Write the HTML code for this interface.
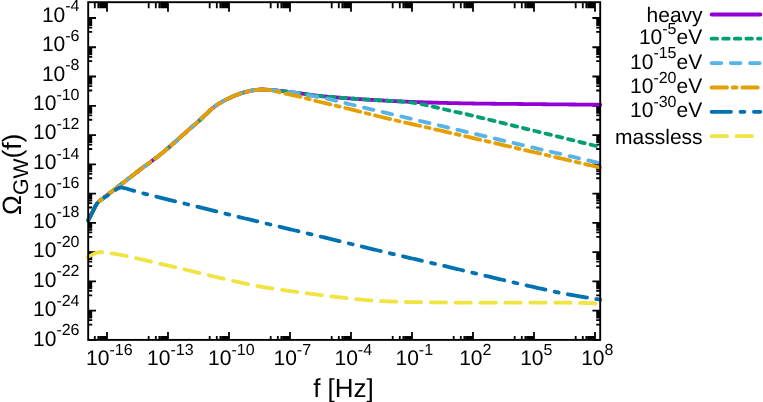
<!DOCTYPE html>
<html><head><meta charset="utf-8"><title>plot</title>
<style>html,body{margin:0;padding:0;background:#fff;}svg{display:block;will-change:transform;}text{font-family:"Liberation Sans",sans-serif;fill:#000;text-rendering:geometricPrecision;}</style></head><body>
<svg width="763" height="402" viewBox="0 0 763 402">
<rect x="0" y="0" width="763" height="402" fill="#fff"/>
<path d="M107.00,2.2 V11.8 M107.00,339.9 V332.1 M94.80,2.2 V8.2 M94.80,339.9 V336.0 M98.36,2.2 V8.2 M98.36,339.9 V336.0 M100.29,2.2 V8.2 M100.29,339.9 V336.0 M102.02,2.2 V8.2 M102.02,339.9 V336.0 M103.54,2.2 V8.2 M103.54,339.9 V336.0 M104.87,2.2 V8.2 M104.87,339.9 V336.0 M105.98,2.2 V8.2 M105.98,339.9 V336.0 M168.00,2.2 V11.8 M168.00,339.9 V332.1 M148.68,2.2 V8.2 M148.68,339.9 V336.0 M155.80,2.2 V8.2 M155.80,339.9 V336.0 M159.36,2.2 V8.2 M159.36,339.9 V336.0 M161.29,2.2 V8.2 M161.29,339.9 V336.0 M163.02,2.2 V8.2 M163.02,339.9 V336.0 M164.54,2.2 V8.2 M164.54,339.9 V336.0 M165.86,2.2 V8.2 M165.86,339.9 V336.0 M166.98,2.2 V8.2 M166.98,339.9 V336.0 M229.00,2.2 V11.8 M229.00,339.9 V332.1 M209.68,2.2 V8.2 M209.68,339.9 V336.0 M216.80,2.2 V8.2 M216.80,339.9 V336.0 M220.36,2.2 V8.2 M220.36,339.9 V336.0 M222.29,2.2 V8.2 M222.29,339.9 V336.0 M224.02,2.2 V8.2 M224.02,339.9 V336.0 M225.54,2.2 V8.2 M225.54,339.9 V336.0 M226.86,2.2 V8.2 M226.86,339.9 V336.0 M227.98,2.2 V8.2 M227.98,339.9 V336.0 M290.00,2.2 V11.8 M290.00,339.9 V332.1 M270.68,2.2 V8.2 M270.68,339.9 V336.0 M277.80,2.2 V8.2 M277.80,339.9 V336.0 M281.36,2.2 V8.2 M281.36,339.9 V336.0 M283.29,2.2 V8.2 M283.29,339.9 V336.0 M285.02,2.2 V8.2 M285.02,339.9 V336.0 M286.54,2.2 V8.2 M286.54,339.9 V336.0 M287.86,2.2 V8.2 M287.86,339.9 V336.0 M288.98,2.2 V8.2 M288.98,339.9 V336.0 M351.00,2.2 V11.8 M351.00,339.9 V332.1 M331.68,2.2 V8.2 M331.68,339.9 V336.0 M338.80,2.2 V8.2 M338.80,339.9 V336.0 M342.35,2.2 V8.2 M342.35,339.9 V336.0 M344.29,2.2 V8.2 M344.29,339.9 V336.0 M346.01,2.2 V8.2 M346.01,339.9 V336.0 M347.54,2.2 V8.2 M347.54,339.9 V336.0 M348.86,2.2 V8.2 M348.86,339.9 V336.0 M349.98,2.2 V8.2 M349.98,339.9 V336.0 M412.00,2.2 V11.8 M412.00,339.9 V332.1 M392.68,2.2 V8.2 M392.68,339.9 V336.0 M399.80,2.2 V8.2 M399.80,339.9 V336.0 M403.35,2.2 V8.2 M403.35,339.9 V336.0 M405.29,2.2 V8.2 M405.29,339.9 V336.0 M407.01,2.2 V8.2 M407.01,339.9 V336.0 M408.54,2.2 V8.2 M408.54,339.9 V336.0 M409.86,2.2 V8.2 M409.86,339.9 V336.0 M410.98,2.2 V8.2 M410.98,339.9 V336.0 M472.99,2.2 V11.8 M472.99,339.9 V332.1 M453.68,2.2 V8.2 M453.68,339.9 V336.0 M460.79,2.2 V8.2 M460.79,339.9 V336.0 M464.35,2.2 V8.2 M464.35,339.9 V336.0 M466.28,2.2 V8.2 M466.28,339.9 V336.0 M468.01,2.2 V8.2 M468.01,339.9 V336.0 M469.54,2.2 V8.2 M469.54,339.9 V336.0 M470.86,2.2 V8.2 M470.86,339.9 V336.0 M471.98,2.2 V8.2 M471.98,339.9 V336.0 M533.99,2.2 V11.8 M533.99,339.9 V332.1 M514.68,2.2 V8.2 M514.68,339.9 V336.0 M521.79,2.2 V8.2 M521.79,339.9 V336.0 M525.35,2.2 V8.2 M525.35,339.9 V336.0 M527.28,2.2 V8.2 M527.28,339.9 V336.0 M529.01,2.2 V8.2 M529.01,339.9 V336.0 M530.54,2.2 V8.2 M530.54,339.9 V336.0 M531.86,2.2 V8.2 M531.86,339.9 V336.0 M532.98,2.2 V8.2 M532.98,339.9 V336.0 M594.99,2.2 V11.8 M594.99,339.9 V332.1 M575.68,2.2 V8.2 M575.68,339.9 V336.0 M582.79,2.2 V8.2 M582.79,339.9 V336.0 M586.35,2.2 V8.2 M586.35,339.9 V336.0 M588.28,2.2 V8.2 M588.28,339.9 V336.0 M590.01,2.2 V8.2 M590.01,339.9 V336.0 M591.54,2.2 V8.2 M591.54,339.9 V336.0 M592.86,2.2 V8.2 M592.86,339.9 V336.0 M593.98,2.2 V8.2 M593.98,339.9 V336.0 M88.2,18.00 H96.0 M600.2,18.00 H592.4 M88.2,31.96 H92.2 M600.2,31.96 H596.2 M88.2,27.56 H92.2 M600.2,27.56 H596.2 M88.2,24.98 H92.2 M600.2,24.98 H596.2 M88.2,23.15 H92.2 M600.2,23.15 H596.2 M88.2,21.73 H92.2 M600.2,21.73 H596.2 M88.2,20.58 H92.2 M600.2,20.58 H596.2 M88.2,19.60 H92.2 M600.2,19.60 H596.2 M88.2,18.75 H92.2 M600.2,18.75 H596.2 M88.2,47.26 H96.0 M600.2,47.26 H592.4 M88.2,61.22 H92.2 M600.2,61.22 H596.2 M88.2,56.82 H92.2 M600.2,56.82 H596.2 M88.2,54.24 H92.2 M600.2,54.24 H596.2 M88.2,52.41 H92.2 M600.2,52.41 H596.2 M88.2,50.99 H92.2 M600.2,50.99 H596.2 M88.2,49.84 H92.2 M600.2,49.84 H596.2 M88.2,48.86 H92.2 M600.2,48.86 H596.2 M88.2,48.01 H92.2 M600.2,48.01 H596.2 M88.2,76.52 H96.0 M600.2,76.52 H592.4 M88.2,90.48 H92.2 M600.2,90.48 H596.2 M88.2,86.08 H92.2 M600.2,86.08 H596.2 M88.2,83.50 H92.2 M600.2,83.50 H596.2 M88.2,81.67 H92.2 M600.2,81.67 H596.2 M88.2,80.25 H92.2 M600.2,80.25 H596.2 M88.2,79.10 H92.2 M600.2,79.10 H596.2 M88.2,78.12 H92.2 M600.2,78.12 H596.2 M88.2,77.27 H92.2 M600.2,77.27 H596.2 M88.2,105.78 H96.0 M600.2,105.78 H592.4 M88.2,119.74 H92.2 M600.2,119.74 H596.2 M88.2,115.34 H92.2 M600.2,115.34 H596.2 M88.2,112.76 H92.2 M600.2,112.76 H596.2 M88.2,110.93 H92.2 M600.2,110.93 H596.2 M88.2,109.51 H92.2 M600.2,109.51 H596.2 M88.2,108.36 H92.2 M600.2,108.36 H596.2 M88.2,107.38 H92.2 M600.2,107.38 H596.2 M88.2,106.53 H92.2 M600.2,106.53 H596.2 M88.2,135.04 H96.0 M600.2,135.04 H592.4 M88.2,149.00 H92.2 M600.2,149.00 H596.2 M88.2,144.60 H92.2 M600.2,144.60 H596.2 M88.2,142.02 H92.2 M600.2,142.02 H596.2 M88.2,140.19 H92.2 M600.2,140.19 H596.2 M88.2,138.77 H92.2 M600.2,138.77 H596.2 M88.2,137.62 H92.2 M600.2,137.62 H596.2 M88.2,136.64 H92.2 M600.2,136.64 H596.2 M88.2,135.79 H92.2 M600.2,135.79 H596.2 M88.2,164.30 H96.0 M600.2,164.30 H592.4 M88.2,178.26 H92.2 M600.2,178.26 H596.2 M88.2,173.86 H92.2 M600.2,173.86 H596.2 M88.2,171.28 H92.2 M600.2,171.28 H596.2 M88.2,169.45 H92.2 M600.2,169.45 H596.2 M88.2,168.03 H92.2 M600.2,168.03 H596.2 M88.2,166.88 H92.2 M600.2,166.88 H596.2 M88.2,165.90 H92.2 M600.2,165.90 H596.2 M88.2,165.05 H92.2 M600.2,165.05 H596.2 M88.2,193.56 H96.0 M600.2,193.56 H592.4 M88.2,207.52 H92.2 M600.2,207.52 H596.2 M88.2,203.12 H92.2 M600.2,203.12 H596.2 M88.2,200.54 H92.2 M600.2,200.54 H596.2 M88.2,198.71 H92.2 M600.2,198.71 H596.2 M88.2,197.29 H92.2 M600.2,197.29 H596.2 M88.2,196.14 H92.2 M600.2,196.14 H596.2 M88.2,195.16 H92.2 M600.2,195.16 H596.2 M88.2,194.31 H92.2 M600.2,194.31 H596.2 M88.2,222.82 H96.0 M600.2,222.82 H592.4 M88.2,236.78 H92.2 M600.2,236.78 H596.2 M88.2,232.38 H92.2 M600.2,232.38 H596.2 M88.2,229.80 H92.2 M600.2,229.80 H596.2 M88.2,227.97 H92.2 M600.2,227.97 H596.2 M88.2,226.55 H92.2 M600.2,226.55 H596.2 M88.2,225.40 H92.2 M600.2,225.40 H596.2 M88.2,224.42 H92.2 M600.2,224.42 H596.2 M88.2,223.57 H92.2 M600.2,223.57 H596.2 M88.2,252.08 H96.0 M600.2,252.08 H592.4 M88.2,266.04 H92.2 M600.2,266.04 H596.2 M88.2,261.64 H92.2 M600.2,261.64 H596.2 M88.2,259.06 H92.2 M600.2,259.06 H596.2 M88.2,257.23 H92.2 M600.2,257.23 H596.2 M88.2,255.81 H92.2 M600.2,255.81 H596.2 M88.2,254.66 H92.2 M600.2,254.66 H596.2 M88.2,253.68 H92.2 M600.2,253.68 H596.2 M88.2,252.83 H92.2 M600.2,252.83 H596.2 M88.2,281.34 H96.0 M600.2,281.34 H592.4 M88.2,295.30 H92.2 M600.2,295.30 H596.2 M88.2,290.90 H92.2 M600.2,290.90 H596.2 M88.2,288.32 H92.2 M600.2,288.32 H596.2 M88.2,286.49 H92.2 M600.2,286.49 H596.2 M88.2,285.07 H92.2 M600.2,285.07 H596.2 M88.2,283.92 H92.2 M600.2,283.92 H596.2 M88.2,282.94 H92.2 M600.2,282.94 H596.2 M88.2,282.09 H92.2 M600.2,282.09 H596.2 M88.2,310.60 H96.0 M600.2,310.60 H592.4 M88.2,324.56 H92.2 M600.2,324.56 H596.2 M88.2,320.16 H92.2 M600.2,320.16 H596.2 M88.2,317.58 H92.2 M600.2,317.58 H596.2 M88.2,315.75 H92.2 M600.2,315.75 H596.2 M88.2,314.33 H92.2 M600.2,314.33 H596.2 M88.2,313.18 H92.2 M600.2,313.18 H596.2 M88.2,312.20 H92.2 M600.2,312.20 H596.2 M88.2,311.35 H92.2 M600.2,311.35 H596.2 M88.2,339.86 H96.0 M600.2,339.86 H592.4" stroke="#000" stroke-width="1.8" fill="none"/>
<g fill="none" stroke-width="3.8" stroke-linecap="round" stroke-linejoin="round">
<path d="M88.20,220.40 L89.20,218.45 L90.20,216.50 L91.20,214.55 L92.20,212.59 L93.20,210.60 L94.20,208.58 L95.20,206.64 L96.20,204.85 L97.20,203.30 L98.20,202.22 L99.20,201.33 L100.20,200.52 L101.20,199.74 L102.20,198.95 L103.20,198.17 L104.20,197.39 L105.20,196.61 L106.20,195.83 L107.20,195.06 L108.20,194.28 L109.20,193.51 L110.20,192.74 L111.20,191.97 L112.20,191.20 L113.20,190.44 L114.20,189.67 L115.20,188.91 L116.20,188.14 L117.20,187.37 L118.20,186.60 L119.20,185.83 L120.20,185.06 L121.20,184.28 L122.20,183.50 L123.20,182.73 L124.20,181.95 L125.20,181.17 L126.20,180.39 L127.20,179.61 L128.20,178.83 L129.20,178.05 L130.20,177.27 L131.20,176.49 L132.20,175.71 L133.20,174.94 L134.20,174.17 L135.20,173.40 L136.20,172.64 L137.20,171.88 L138.20,171.12 L139.20,170.36 L140.20,169.60 L141.20,168.85 L142.20,168.10 L143.20,167.35 L144.20,166.60 L145.20,165.86 L146.20,165.13 L147.20,164.39 L148.20,163.66 L149.20,162.93 L150.20,162.19 L151.20,161.45 L152.20,160.70 L153.20,159.95 L154.20,159.21 L155.20,158.46 L156.20,157.71 L157.20,156.95 L158.20,156.19 L159.20,155.41 L160.20,154.62 L161.20,153.82 L162.20,153.00 L163.20,152.17 L164.20,151.34 L165.20,150.49 L166.20,149.65 L167.20,148.80 L168.20,147.94 L169.20,147.09 L170.20,146.23 L171.20,145.36 L172.20,144.49 L173.20,143.61 L174.20,142.73 L175.20,141.85 L176.20,140.97 L177.20,140.08 L178.20,139.18 L179.20,138.28 L180.20,137.38 L181.20,136.48 L182.20,135.58 L183.20,134.69 L184.20,133.80 L185.20,132.91 L186.20,132.02 L187.20,131.14 L188.20,130.26 L189.20,129.38 L190.20,128.50 L191.20,127.63 L192.20,126.76 L193.20,125.91 L194.20,125.07 L195.20,124.22 L196.20,123.36 L197.20,122.49 L198.20,121.60 L199.20,120.69 L200.20,119.75 L201.20,118.81 L202.20,117.85 L203.20,116.89 L204.20,115.93 L205.20,114.99 L206.20,114.04 L207.20,113.07 L208.20,112.10 L209.20,111.13 L210.20,110.19 L211.20,109.29 L212.20,108.44 L213.20,107.65 L214.20,106.89 L215.20,106.17 L216.20,105.47 L217.20,104.79 L218.20,104.14 L219.20,103.51 L220.20,102.90 L221.20,102.30 L222.20,101.73 L223.20,101.18 L224.20,100.64 L225.20,100.11 L226.20,99.60 L227.20,99.10 L228.20,98.61 L229.20,98.13 L230.20,97.66 L231.20,97.21 L232.20,96.76 L233.20,96.33 L234.20,95.92 L235.20,95.51 L236.20,95.11 L237.20,94.72 L238.20,94.35 L239.20,93.98 L240.20,93.63 L241.20,93.30 L242.20,92.98 L243.20,92.67 L244.20,92.38 L245.20,92.09 L246.20,91.83 L247.20,91.58 L248.20,91.34 L249.20,91.11 L250.20,90.89 L251.20,90.69 L252.20,90.50 L253.20,90.33 L254.20,90.17 L255.20,90.02 L256.20,89.88 L257.20,89.77 L258.20,89.69 L259.20,89.61 L260.20,89.55 L261.20,89.51 L262.20,89.50 L263.20,89.52 L264.20,89.55 L265.20,89.60 L266.20,89.66 L267.20,89.74 L268.20,89.82 L269.20,89.91 L270.20,90.00 L271.20,90.08 L272.20,90.17 L273.20,90.25 L274.20,90.33 L275.20,90.42 L276.20,90.51 L277.20,90.60 L278.20,90.70 L279.20,90.80 L280.20,90.90 L281.20,91.00 L282.20,91.11 L283.20,91.21 L284.20,91.32 L285.20,91.43 L286.20,91.55 L287.20,91.66 L288.20,91.78 L289.20,91.90 L290.20,92.03 L291.20,92.16 L292.20,92.29 L293.20,92.42 L294.20,92.55 L295.20,92.69 L296.20,92.82 L297.20,92.96 L298.20,93.09 L299.20,93.23 L300.20,93.36 L301.20,93.50 L302.20,93.65 L303.20,93.79 L304.20,93.94 L305.20,94.09 L306.20,94.24 L307.20,94.39 L308.20,94.54 L309.20,94.69 L310.20,94.84 L311.20,94.98 L312.20,95.12 L313.20,95.25 L314.20,95.39 L315.20,95.51 L316.20,95.63 L317.20,95.75 L318.20,95.85 L319.20,95.96 L320.20,96.05 L321.20,96.15 L322.20,96.24 L323.20,96.34 L324.20,96.42 L325.20,96.51 L326.20,96.59 L327.20,96.68 L328.20,96.76 L329.20,96.84 L330.20,96.92 L331.20,97.00 L332.20,97.08 L333.20,97.15 L334.20,97.23 L335.20,97.31 L336.20,97.39 L337.20,97.47 L338.20,97.55 L339.20,97.63 L340.20,97.71 L341.20,97.79 L342.20,97.86 L343.20,97.94 L344.20,98.02 L345.20,98.09 L346.20,98.17 L347.20,98.24 L348.20,98.32 L349.20,98.39 L350.20,98.46 L351.20,98.53 L352.20,98.61 L353.20,98.68 L354.20,98.74 L355.20,98.81 L356.20,98.88 L357.20,98.95 L358.20,99.02 L359.20,99.08 L360.20,99.15 L361.20,99.22 L362.20,99.28 L363.20,99.35 L364.20,99.41 L365.20,99.48 L366.20,99.54 L367.20,99.60 L368.20,99.67 L369.20,99.73 L370.20,99.79 L371.20,99.85 L372.20,99.91 L373.20,99.97 L374.20,100.03 L375.20,100.08 L376.20,100.14 L377.20,100.19 L378.20,100.25 L379.20,100.30 L380.20,100.36 L381.20,100.41 L382.20,100.47 L383.20,100.52 L384.20,100.58 L385.20,100.63 L386.20,100.68 L387.20,100.74 L388.20,100.79 L389.20,100.84 L390.20,100.89 L391.20,100.94 L392.20,101.00 L393.20,101.05 L394.20,101.10 L395.20,101.15 L396.20,101.20 L397.20,101.25 L398.20,101.29 L399.20,101.34 L400.20,101.39 L401.20,101.44 L402.20,101.48 L403.20,101.53 L404.20,101.57 L405.20,101.62 L406.20,101.66 L407.20,101.70 L408.20,101.74 L409.20,101.79 L410.20,101.83 L411.20,101.87 L412.20,101.91 L413.20,101.94 L414.20,101.98 L415.20,102.02 L416.20,102.05 L417.20,102.09 L418.20,102.13 L419.20,102.16 L420.20,102.20 L421.20,102.23 L422.20,102.26 L423.20,102.30 L424.20,102.33 L425.20,102.36 L426.20,102.40 L427.20,102.43 L428.20,102.46 L429.20,102.49 L430.20,102.52 L431.20,102.55 L432.20,102.58 L433.20,102.61 L434.20,102.64 L435.20,102.67 L436.20,102.70 L437.20,102.73 L438.20,102.76 L439.20,102.78 L440.20,102.81 L441.20,102.84 L442.20,102.86 L443.20,102.89 L444.20,102.92 L445.20,102.94 L446.20,102.97 L447.20,102.99 L448.20,103.01 L449.20,103.04 L450.20,103.06 L451.20,103.08 L452.20,103.10 L453.20,103.13 L454.20,103.15 L455.20,103.17 L456.20,103.19 L457.20,103.21 L458.20,103.23 L459.20,103.25 L460.20,103.27 L461.20,103.29 L462.20,103.31 L463.20,103.33 L464.20,103.35 L465.20,103.37 L466.20,103.38 L467.20,103.40 L468.20,103.42 L469.20,103.44 L470.20,103.45 L471.20,103.47 L472.20,103.49 L473.20,103.50 L474.20,103.52 L475.20,103.53 L476.20,103.55 L477.20,103.56 L478.20,103.58 L479.20,103.59 L480.20,103.60 L481.20,103.62 L482.20,103.63 L483.20,103.64 L484.20,103.65 L485.20,103.66 L486.20,103.68 L487.20,103.69 L488.20,103.70 L489.20,103.71 L490.20,103.72 L491.20,103.73 L492.20,103.74 L493.20,103.75 L494.20,103.76 L495.20,103.77 L496.20,103.78 L497.20,103.79 L498.20,103.80 L499.20,103.81 L500.20,103.82 L501.20,103.83 L502.20,103.84 L503.20,103.84 L504.20,103.85 L505.20,103.86 L506.20,103.87 L507.20,103.88 L508.20,103.89 L509.20,103.90 L510.20,103.91 L511.20,103.92 L512.20,103.93 L513.20,103.93 L514.20,103.94 L515.20,103.95 L516.20,103.96 L517.20,103.97 L518.20,103.98 L519.20,103.99 L520.20,104.00 L521.20,104.01 L522.20,104.02 L523.20,104.03 L524.20,104.04 L525.20,104.05 L526.20,104.06 L527.20,104.07 L528.20,104.08 L529.20,104.09 L530.20,104.10 L531.20,104.12 L532.20,104.13 L533.20,104.14 L534.20,104.15 L535.20,104.16 L536.20,104.17 L537.20,104.18 L538.20,104.19 L539.20,104.20 L540.20,104.21 L541.20,104.22 L542.20,104.23 L543.20,104.24 L544.20,104.25 L545.20,104.26 L546.20,104.27 L547.20,104.28 L548.20,104.29 L549.20,104.30 L550.20,104.31 L551.20,104.32 L552.20,104.33 L553.20,104.34 L554.20,104.35 L555.20,104.36 L556.20,104.37 L557.20,104.38 L558.20,104.38 L559.20,104.39 L560.20,104.40 L561.20,104.41 L562.20,104.42 L563.20,104.43 L564.20,104.44 L565.20,104.44 L566.20,104.45 L567.20,104.46 L568.20,104.47 L569.20,104.48 L570.20,104.48 L571.20,104.49 L572.20,104.50 L573.20,104.51 L574.20,104.52 L575.20,104.52 L576.20,104.53 L577.20,104.54 L578.20,104.55 L579.20,104.56 L580.20,104.56 L581.20,104.57 L582.20,104.58 L583.20,104.58 L584.20,104.59 L585.20,104.60 L586.20,104.61 L587.20,104.61 L588.20,104.62 L589.20,104.63 L590.20,104.63 L591.20,104.64 L592.20,104.65 L593.20,104.65 L594.20,104.66 L595.20,104.67 L596.20,104.67 L597.20,104.68 L598.20,104.69 L599.20,104.69 L600.20,104.70" stroke="#9400d3"/>
<path d="M88.20,220.40 L89.20,218.45 L90.20,216.50 L91.20,214.55 L92.20,212.59 L93.20,210.60 L94.20,208.58 L95.20,206.64 L96.20,204.85 L97.20,203.30 L98.20,202.22 L99.20,201.33 L100.20,200.52 L101.20,199.74 L102.20,198.95 L103.20,198.17 L104.20,197.39 L105.20,196.61 L106.20,195.83 L107.20,195.06 L108.20,194.28 L109.20,193.51 L110.20,192.74 L111.20,191.97 L112.20,191.20 L113.20,190.44 L114.20,189.67 L115.20,188.91 L116.20,188.14 L117.20,187.37 L118.20,186.60 L119.20,185.83 L120.20,185.06 L121.20,184.28 L122.20,183.50 L123.20,182.73 L124.20,181.95 L125.20,181.17 L126.20,180.39 L127.20,179.61 L128.20,178.83 L129.20,178.05 L130.20,177.27 L131.20,176.49 L132.20,175.71 L133.20,174.94 L134.20,174.17 L135.20,173.40 L136.20,172.64 L137.20,171.88 L138.20,171.12 L139.20,170.36 L140.20,169.60 L141.20,168.85 L142.20,168.10 L143.20,167.35 L144.20,166.60 L145.20,165.86 L146.20,165.13 L147.20,164.39 L148.20,163.66 L149.20,162.93 L150.20,162.19 L151.20,161.45 L152.20,160.70 L153.20,159.95 L154.20,159.21 L155.20,158.46 L156.20,157.71 L157.20,156.95 L158.20,156.19 L159.20,155.41 L160.20,154.62 L161.20,153.82 L162.20,153.00 L163.20,152.17 L164.20,151.34 L165.20,150.49 L166.20,149.65 L167.20,148.80 L168.20,147.94 L169.20,147.09 L170.20,146.23 L171.20,145.36 L172.20,144.49 L173.20,143.61 L174.20,142.73 L175.20,141.85 L176.20,140.97 L177.20,140.08 L178.20,139.18 L179.20,138.28 L180.20,137.38 L181.20,136.48 L182.20,135.58 L183.20,134.69 L184.20,133.80 L185.20,132.91 L186.20,132.02 L187.20,131.14 L188.20,130.26 L189.20,129.38 L190.20,128.50 L191.20,127.63 L192.20,126.76 L193.20,125.91 L194.20,125.07 L195.20,124.22 L196.20,123.36 L197.20,122.49 L198.20,121.60 L199.20,120.69 L200.20,119.75 L201.20,118.81 L202.20,117.85 L203.20,116.89 L204.20,115.93 L205.20,114.99 L206.20,114.04 L207.20,113.07 L208.20,112.10 L209.20,111.13 L210.20,110.19 L211.20,109.29 L212.20,108.44 L213.20,107.65 L214.20,106.89 L215.20,106.17 L216.20,105.47 L217.20,104.79 L218.20,104.14 L219.20,103.51 L220.20,102.90 L221.20,102.30 L222.20,101.73 L223.20,101.18 L224.20,100.64 L225.20,100.11 L226.20,99.60 L227.20,99.10 L228.20,98.61 L229.20,98.13 L230.20,97.66 L231.20,97.21 L232.20,96.76 L233.20,96.33 L234.20,95.92 L235.20,95.51 L236.20,95.11 L237.20,94.72 L238.20,94.35 L239.20,93.98 L240.20,93.63 L241.20,93.30 L242.20,92.98 L243.20,92.67 L244.20,92.38 L245.20,92.09 L246.20,91.83 L247.20,91.58 L248.20,91.34 L249.20,91.11 L250.20,90.89 L251.20,90.69 L252.20,90.50 L253.20,90.33 L254.20,90.17 L255.20,90.02 L256.20,89.88 L257.20,89.77 L258.20,89.69 L259.20,89.61 L260.20,89.55 L261.20,89.51 L262.20,89.50 L263.20,89.52 L264.20,89.55 L265.20,89.60 L266.20,89.66 L267.20,89.74 L268.20,89.82 L269.20,89.91 L270.20,90.00 L271.20,90.08 L272.20,90.17 L273.20,90.25 L274.20,90.33 L275.20,90.42 L276.20,90.51 L277.20,90.60 L278.20,90.70 L279.20,90.80 L280.20,90.90 L281.20,91.00 L282.20,91.11 L283.20,91.21 L284.20,91.32 L285.20,91.43 L286.20,91.55 L287.20,91.66 L288.20,91.78 L289.20,91.90 L290.20,92.03 L291.20,92.16 L292.20,92.29 L293.20,92.42 L294.20,92.55 L295.20,92.69 L296.20,92.82 L297.20,92.96 L298.20,93.09 L299.20,93.23 L300.20,93.36 L301.20,93.50 L302.20,93.65 L303.20,93.79 L304.20,93.94 L305.20,94.09 L306.20,94.24 L307.20,94.39 L308.20,94.54 L309.20,94.69 L310.20,94.84 L311.20,94.98 L312.20,95.12 L313.20,95.25 L314.20,95.39 L315.20,95.51 L316.20,95.63 L317.20,95.75 L318.20,95.85 L319.20,95.96 L320.20,96.05 L321.20,96.15 L322.20,96.24 L323.20,96.34 L324.20,96.42 L325.20,96.51 L326.20,96.59 L327.20,96.68 L328.20,96.76 L329.20,96.84 L330.20,96.92 L331.20,97.00 L332.20,97.08 L333.20,97.15 L334.20,97.23 L335.20,97.31 L336.20,97.39 L337.20,97.47 L338.20,97.55 L339.20,97.63 L340.20,97.71 L341.20,97.79 L342.20,97.86 L343.20,97.94 L344.20,98.02 L345.20,98.09 L346.20,98.17 L347.20,98.24 L348.20,98.32 L349.20,98.39 L350.20,98.46 L351.20,98.53 L352.20,98.61 L353.20,98.68 L354.20,98.74 L355.20,98.81 L356.20,98.88 L357.20,98.95 L358.20,99.02 L359.20,99.08 L360.20,99.15 L361.20,99.21 L362.20,99.28 L363.20,99.34 L364.20,99.41 L365.20,99.47 L366.20,99.53 L367.20,99.60 L368.20,99.66 L369.20,99.72 L370.20,99.78 L371.20,99.84 L372.20,99.90 L373.20,99.96 L374.20,100.02 L375.20,100.08 L376.20,100.14 L377.20,100.19 L378.20,100.25 L379.20,100.31 L380.20,100.36 L381.20,100.41 L382.20,100.46 L383.20,100.51 L384.20,100.56 L385.20,100.60 L386.20,100.65 L387.20,100.70 L388.20,100.75 L389.20,100.79 L390.20,100.84 L391.20,100.89 L392.20,100.94 L393.20,100.99 L394.20,101.05 L395.20,101.10 L396.20,101.16 L397.20,101.22 L398.20,101.28 L399.20,101.35 L400.20,101.41 L401.20,101.49 L402.20,101.56 L403.20,101.64 L404.20,101.72 L405.20,101.81 L406.20,101.90 L407.20,102.00 L408.20,102.10 L409.20,102.21 L410.20,102.32 L411.20,102.45 L412.20,102.58 L413.20,102.73 L414.20,102.89 L415.20,103.05 L416.20,103.22 L417.20,103.40 L418.20,103.58 L419.20,103.76 L420.20,103.94 L421.20,104.12 L422.20,104.31 L423.20,104.51 L424.20,104.72 L425.20,104.92 L426.20,105.14 L427.20,105.35 L428.20,105.57 L429.20,105.79 L430.20,106.01 L431.20,106.23 L432.20,106.46 L433.20,106.68 L434.20,106.90 L435.20,107.13 L436.20,107.36 L437.20,107.59 L438.20,107.83 L439.20,108.06 L440.20,108.30 L441.20,108.54 L442.20,108.78 L443.20,109.03 L444.20,109.27 L445.20,109.51 L446.20,109.75 L447.20,109.99 L448.20,110.22 L449.20,110.46 L450.20,110.69 L451.20,110.92 L452.20,111.14 L453.20,111.37 L454.20,111.58 L455.20,111.80 L456.20,112.01 L457.20,112.22 L458.20,112.43 L459.20,112.64 L460.20,112.85 L461.20,113.07 L462.20,113.28 L463.20,113.50 L464.20,113.72 L465.20,113.95 L466.20,114.17 L467.20,114.41 L468.20,114.64 L469.20,114.88 L470.20,115.12 L471.20,115.36 L472.20,115.60 L473.20,115.84 L474.20,116.09 L475.20,116.33 L476.20,116.57 L477.20,116.82 L478.20,117.06 L479.20,117.31 L480.20,117.55 L481.20,117.79 L482.20,118.03 L483.20,118.28 L484.20,118.52 L485.20,118.76 L486.20,119.00 L487.20,119.25 L488.20,119.49 L489.20,119.73 L490.20,119.98 L491.20,120.22 L492.20,120.46 L493.20,120.71 L494.20,120.95 L495.20,121.20 L496.20,121.44 L497.20,121.69 L498.20,121.93 L499.20,122.18 L500.20,122.42 L501.20,122.67 L502.20,122.91 L503.20,123.16 L504.20,123.40 L505.20,123.65 L506.20,123.89 L507.20,124.14 L508.20,124.38 L509.20,124.63 L510.20,124.87 L511.20,125.12 L512.20,125.36 L513.20,125.61 L514.20,125.86 L515.20,126.10 L516.20,126.35 L517.20,126.59 L518.20,126.84 L519.20,127.09 L520.20,127.33 L521.20,127.58 L522.20,127.82 L523.20,128.07 L524.20,128.32 L525.20,128.56 L526.20,128.81 L527.20,129.05 L528.20,129.30 L529.20,129.55 L530.20,129.79 L531.20,130.04 L532.20,130.28 L533.20,130.53 L534.20,130.78 L535.20,131.02 L536.20,131.27 L537.20,131.51 L538.20,131.76 L539.20,132.00 L540.20,132.25 L541.20,132.49 L542.20,132.74 L543.20,132.99 L544.20,133.23 L545.20,133.48 L546.20,133.72 L547.20,133.97 L548.20,134.21 L549.20,134.46 L550.20,134.70 L551.20,134.95 L552.20,135.20 L553.20,135.44 L554.20,135.69 L555.20,135.93 L556.20,136.18 L557.20,136.42 L558.20,136.67 L559.20,136.91 L560.20,137.16 L561.20,137.41 L562.20,137.65 L563.20,137.90 L564.20,138.14 L565.20,138.39 L566.20,138.63 L567.20,138.88 L568.20,139.13 L569.20,139.37 L570.20,139.62 L571.20,139.86 L572.20,140.11 L573.20,140.36 L574.20,140.60 L575.20,140.85 L576.20,141.09 L577.20,141.34 L578.20,141.59 L579.20,141.83 L580.20,142.08 L581.20,142.32 L582.20,142.57 L583.20,142.82 L584.20,143.06 L585.20,143.31 L586.20,143.55 L587.20,143.80 L588.20,144.05 L589.20,144.29 L590.20,144.54 L591.20,144.78 L592.20,145.03 L593.20,145.28 L594.20,145.52 L595.20,145.77 L596.20,146.02 L597.20,146.26 L598.20,146.51 L599.20,146.75 L600.20,147.00" stroke="#009e73" stroke-dasharray="5.5 6.1"/>
<path d="M88.20,220.40 L89.20,218.45 L90.20,216.50 L91.20,214.55 L92.20,212.59 L93.20,210.60 L94.20,208.58 L95.20,206.64 L96.20,204.85 L97.20,203.30 L98.20,202.22 L99.20,201.33 L100.20,200.52 L101.20,199.74 L102.20,198.95 L103.20,198.17 L104.20,197.39 L105.20,196.61 L106.20,195.83 L107.20,195.06 L108.20,194.28 L109.20,193.51 L110.20,192.74 L111.20,191.97 L112.20,191.20 L113.20,190.44 L114.20,189.67 L115.20,188.91 L116.20,188.14 L117.20,187.37 L118.20,186.60 L119.20,185.83 L120.20,185.06 L121.20,184.28 L122.20,183.50 L123.20,182.73 L124.20,181.95 L125.20,181.17 L126.20,180.39 L127.20,179.61 L128.20,178.83 L129.20,178.05 L130.20,177.27 L131.20,176.49 L132.20,175.71 L133.20,174.94 L134.20,174.17 L135.20,173.40 L136.20,172.64 L137.20,171.88 L138.20,171.12 L139.20,170.36 L140.20,169.60 L141.20,168.85 L142.20,168.10 L143.20,167.35 L144.20,166.60 L145.20,165.86 L146.20,165.13 L147.20,164.39 L148.20,163.66 L149.20,162.93 L150.20,162.19 L151.20,161.45 L152.20,160.70 L153.20,159.95 L154.20,159.21 L155.20,158.46 L156.20,157.71 L157.20,156.95 L158.20,156.19 L159.20,155.41 L160.20,154.62 L161.20,153.82 L162.20,153.00 L163.20,152.17 L164.20,151.34 L165.20,150.49 L166.20,149.65 L167.20,148.80 L168.20,147.94 L169.20,147.09 L170.20,146.23 L171.20,145.36 L172.20,144.49 L173.20,143.61 L174.20,142.73 L175.20,141.85 L176.20,140.97 L177.20,140.08 L178.20,139.18 L179.20,138.28 L180.20,137.38 L181.20,136.48 L182.20,135.58 L183.20,134.69 L184.20,133.80 L185.20,132.91 L186.20,132.02 L187.20,131.14 L188.20,130.26 L189.20,129.38 L190.20,128.50 L191.20,127.63 L192.20,126.76 L193.20,125.91 L194.20,125.07 L195.20,124.22 L196.20,123.36 L197.20,122.49 L198.20,121.60 L199.20,120.69 L200.20,119.75 L201.20,118.81 L202.20,117.85 L203.20,116.89 L204.20,115.93 L205.20,114.99 L206.20,114.04 L207.20,113.07 L208.20,112.10 L209.20,111.13 L210.20,110.19 L211.20,109.29 L212.20,108.44 L213.20,107.65 L214.20,106.89 L215.20,106.17 L216.20,105.47 L217.20,104.79 L218.20,104.14 L219.20,103.51 L220.20,102.90 L221.20,102.30 L222.20,101.73 L223.20,101.18 L224.20,100.64 L225.20,100.11 L226.20,99.60 L227.20,99.10 L228.20,98.61 L229.20,98.13 L230.20,97.66 L231.20,97.21 L232.20,96.76 L233.20,96.33 L234.20,95.92 L235.20,95.51 L236.20,95.11 L237.20,94.72 L238.20,94.35 L239.20,93.98 L240.20,93.63 L241.20,93.30 L242.20,92.98 L243.20,92.67 L244.20,92.38 L245.20,92.09 L246.20,91.83 L247.20,91.58 L248.20,91.34 L249.20,91.11 L250.20,90.89 L251.20,90.69 L252.20,90.50 L253.20,90.33 L254.20,90.17 L255.20,90.02 L256.20,89.88 L257.20,89.77 L258.20,89.69 L259.20,89.61 L260.20,89.55 L261.20,89.51 L262.20,89.50 L263.20,89.52 L264.20,89.55 L265.20,89.60 L266.20,89.66 L267.20,89.74 L268.20,89.82 L269.20,89.90 L270.20,89.99 L271.20,90.08 L272.20,90.17 L273.20,90.25 L274.20,90.34 L275.20,90.43 L276.20,90.52 L277.20,90.62 L278.20,90.72 L279.20,90.83 L280.20,90.94 L281.20,91.05 L282.20,91.17 L283.20,91.29 L284.20,91.41 L285.20,91.53 L286.20,91.65 L287.20,91.78 L288.20,91.91 L289.20,92.04 L290.20,92.18 L291.20,92.33 L292.20,92.48 L293.20,92.63 L294.20,92.78 L295.20,92.93 L296.20,93.09 L297.20,93.25 L298.20,93.42 L299.20,93.59 L300.20,93.76 L301.20,93.93 L302.20,94.11 L303.20,94.28 L304.20,94.46 L305.20,94.64 L306.20,94.81 L307.20,94.99 L308.20,95.17 L309.20,95.35 L310.20,95.53 L311.20,95.71 L312.20,95.89 L313.20,96.07 L314.20,96.25 L315.20,96.44 L316.20,96.62 L317.20,96.79 L318.20,96.97 L319.20,97.14 L320.20,97.32 L321.20,97.50 L322.20,97.67 L323.20,97.86 L324.20,98.04 L325.20,98.24 L326.20,98.44 L327.20,98.64 L328.20,98.86 L329.20,99.08 L330.20,99.31 L331.20,99.55 L332.20,99.79 L333.20,100.03 L334.20,100.29 L335.20,100.54 L336.20,100.80 L337.20,101.05 L338.20,101.31 L339.20,101.57 L340.20,101.82 L341.20,102.08 L342.20,102.33 L343.20,102.58 L344.20,102.82 L345.20,103.06 L346.20,103.31 L347.20,103.55 L348.20,103.79 L349.20,104.03 L350.20,104.27 L351.20,104.51 L352.20,104.76 L353.20,105.00 L354.20,105.24 L355.20,105.48 L356.20,105.72 L357.20,105.96 L358.20,106.20 L359.20,106.44 L360.20,106.68 L361.20,106.92 L362.20,107.15 L363.20,107.39 L364.20,107.63 L365.20,107.87 L366.20,108.11 L367.20,108.35 L368.20,108.59 L369.20,108.83 L370.20,109.07 L371.20,109.30 L372.20,109.54 L373.20,109.78 L374.20,110.02 L375.20,110.26 L376.20,110.50 L377.20,110.73 L378.20,110.97 L379.20,111.21 L380.20,111.45 L381.20,111.69 L382.20,111.93 L383.20,112.16 L384.20,112.40 L385.20,112.64 L386.20,112.88 L387.20,113.12 L388.20,113.36 L389.20,113.60 L390.20,113.84 L391.20,114.07 L392.20,114.31 L393.20,114.55 L394.20,114.79 L395.20,115.03 L396.20,115.27 L397.20,115.51 L398.20,115.75 L399.20,115.99 L400.20,116.22 L401.20,116.46 L402.20,116.70 L403.20,116.94 L404.20,117.18 L405.20,117.42 L406.20,117.66 L407.20,117.89 L408.20,118.13 L409.20,118.37 L410.20,118.61 L411.20,118.85 L412.20,119.09 L413.20,119.32 L414.20,119.56 L415.20,119.80 L416.20,120.04 L417.20,120.28 L418.20,120.51 L419.20,120.75 L420.20,120.99 L421.20,121.23 L422.20,121.47 L423.20,121.70 L424.20,121.94 L425.20,122.18 L426.20,122.42 L427.20,122.65 L428.20,122.89 L429.20,123.13 L430.20,123.37 L431.20,123.60 L432.20,123.84 L433.20,124.08 L434.20,124.31 L435.20,124.55 L436.20,124.79 L437.20,125.02 L438.20,125.26 L439.20,125.50 L440.20,125.73 L441.20,125.97 L442.20,126.20 L443.20,126.44 L444.20,126.68 L445.20,126.91 L446.20,127.15 L447.20,127.38 L448.20,127.62 L449.20,127.86 L450.20,128.09 L451.20,128.33 L452.20,128.56 L453.20,128.80 L454.20,129.03 L455.20,129.27 L456.20,129.50 L457.20,129.74 L458.20,129.97 L459.20,130.21 L460.20,130.44 L461.20,130.68 L462.20,130.91 L463.20,131.15 L464.20,131.38 L465.20,131.62 L466.20,131.86 L467.20,132.09 L468.20,132.33 L469.20,132.56 L470.20,132.80 L471.20,133.03 L472.20,133.27 L473.20,133.50 L474.20,133.74 L475.20,133.97 L476.20,134.21 L477.20,134.44 L478.20,134.68 L479.20,134.91 L480.20,135.15 L481.20,135.38 L482.20,135.62 L483.20,135.85 L484.20,136.09 L485.20,136.32 L486.20,136.56 L487.20,136.79 L488.20,137.03 L489.20,137.27 L490.20,137.50 L491.20,137.74 L492.20,137.97 L493.20,138.21 L494.20,138.44 L495.20,138.68 L496.20,138.91 L497.20,139.15 L498.20,139.38 L499.20,139.62 L500.20,139.86 L501.20,140.09 L502.20,140.33 L503.20,140.56 L504.20,140.80 L505.20,141.03 L506.20,141.27 L507.20,141.50 L508.20,141.74 L509.20,141.97 L510.20,142.21 L511.20,142.44 L512.20,142.68 L513.20,142.91 L514.20,143.15 L515.20,143.38 L516.20,143.62 L517.20,143.85 L518.20,144.09 L519.20,144.32 L520.20,144.56 L521.20,144.79 L522.20,145.03 L523.20,145.26 L524.20,145.50 L525.20,145.73 L526.20,145.97 L527.20,146.20 L528.20,146.44 L529.20,146.67 L530.20,146.91 L531.20,147.14 L532.20,147.37 L533.20,147.61 L534.20,147.84 L535.20,148.08 L536.20,148.31 L537.20,148.55 L538.20,148.78 L539.20,149.01 L540.20,149.25 L541.20,149.48 L542.20,149.71 L543.20,149.95 L544.20,150.18 L545.20,150.42 L546.20,150.65 L547.20,150.88 L548.20,151.12 L549.20,151.35 L550.20,151.58 L551.20,151.82 L552.20,152.05 L553.20,152.28 L554.20,152.52 L555.20,152.75 L556.20,152.98 L557.20,153.21 L558.20,153.45 L559.20,153.68 L560.20,153.91 L561.20,154.15 L562.20,154.38 L563.20,154.61 L564.20,154.85 L565.20,155.08 L566.20,155.31 L567.20,155.54 L568.20,155.78 L569.20,156.01 L570.20,156.24 L571.20,156.47 L572.20,156.71 L573.20,156.94 L574.20,157.17 L575.20,157.40 L576.20,157.64 L577.20,157.87 L578.20,158.10 L579.20,158.33 L580.20,158.57 L581.20,158.80 L582.20,159.03 L583.20,159.26 L584.20,159.49 L585.20,159.73 L586.20,159.96 L587.20,160.19 L588.20,160.42 L589.20,160.65 L590.20,160.88 L591.20,161.12 L592.20,161.35 L593.20,161.58 L594.20,161.81 L595.20,162.04 L596.20,162.27 L597.20,162.51 L598.20,162.74 L599.20,162.97 L600.20,163.20" stroke="#56b4e9" stroke-dasharray="9.7 9.5"/>
<path d="M88.20,220.40 L89.20,218.45 L90.20,216.50 L91.20,214.55 L92.20,212.59 L93.20,210.60 L94.20,208.58 L95.20,206.64 L96.20,204.85 L97.20,203.30 L98.20,202.22 L99.20,201.33 L100.20,200.52 L101.20,199.74 L102.20,198.95 L103.20,198.17 L104.20,197.39 L105.20,196.61 L106.20,195.83 L107.20,195.06 L108.20,194.28 L109.20,193.51 L110.20,192.74 L111.20,191.97 L112.20,191.20 L113.20,190.44 L114.20,189.67 L115.20,188.91 L116.20,188.14 L117.20,187.37 L118.20,186.60 L119.20,185.83 L120.20,185.06 L121.20,184.28 L122.20,183.50 L123.20,182.73 L124.20,181.95 L125.20,181.17 L126.20,180.39 L127.20,179.61 L128.20,178.83 L129.20,178.05 L130.20,177.27 L131.20,176.49 L132.20,175.71 L133.20,174.94 L134.20,174.17 L135.20,173.40 L136.20,172.64 L137.20,171.88 L138.20,171.12 L139.20,170.36 L140.20,169.60 L141.20,168.85 L142.20,168.10 L143.20,167.35 L144.20,166.60 L145.20,165.86 L146.20,165.13 L147.20,164.39 L148.20,163.66 L149.20,162.93 L150.20,162.19 L151.20,161.45 L152.20,160.70 L153.20,159.95 L154.20,159.21 L155.20,158.46 L156.20,157.71 L157.20,156.95 L158.20,156.19 L159.20,155.41 L160.20,154.62 L161.20,153.82 L162.20,153.00 L163.20,152.17 L164.20,151.34 L165.20,150.49 L166.20,149.65 L167.20,148.80 L168.20,147.94 L169.20,147.09 L170.20,146.23 L171.20,145.36 L172.20,144.49 L173.20,143.61 L174.20,142.73 L175.20,141.85 L176.20,140.97 L177.20,140.08 L178.20,139.18 L179.20,138.28 L180.20,137.38 L181.20,136.48 L182.20,135.58 L183.20,134.69 L184.20,133.80 L185.20,132.91 L186.20,132.02 L187.20,131.14 L188.20,130.26 L189.20,129.38 L190.20,128.50 L191.20,127.63 L192.20,126.76 L193.20,125.91 L194.20,125.07 L195.20,124.22 L196.20,123.36 L197.20,122.49 L198.20,121.60 L199.20,120.69 L200.20,119.75 L201.20,118.81 L202.20,117.85 L203.20,116.89 L204.20,115.93 L205.20,114.99 L206.20,114.04 L207.20,113.07 L208.20,112.10 L209.20,111.13 L210.20,110.19 L211.20,109.29 L212.20,108.44 L213.20,107.65 L214.20,106.89 L215.20,106.17 L216.20,105.47 L217.20,104.79 L218.20,104.14 L219.20,103.51 L220.20,102.90 L221.20,102.30 L222.20,101.73 L223.20,101.18 L224.20,100.64 L225.20,100.11 L226.20,99.60 L227.20,99.10 L228.20,98.61 L229.20,98.13 L230.20,97.66 L231.20,97.21 L232.20,96.76 L233.20,96.33 L234.20,95.92 L235.20,95.51 L236.20,95.11 L237.20,94.72 L238.20,94.35 L239.20,93.98 L240.20,93.63 L241.20,93.30 L242.20,92.98 L243.20,92.67 L244.20,92.38 L245.20,92.09 L246.20,91.83 L247.20,91.58 L248.20,91.34 L249.20,91.11 L250.20,90.89 L251.20,90.69 L252.20,90.50 L253.20,90.33 L254.20,90.17 L255.20,90.02 L256.20,89.88 L257.20,89.77 L258.20,89.69 L259.20,89.61 L260.20,89.55 L261.20,89.51 L262.20,89.50 L263.20,89.52 L264.20,89.57 L265.20,89.64 L266.20,89.73 L267.20,89.82 L268.20,89.92 L269.20,90.05 L270.20,90.22 L271.20,90.42 L272.20,90.63 L273.20,90.86 L274.20,91.08 L275.20,91.30 L276.20,91.51 L277.20,91.73 L278.20,91.95 L279.20,92.18 L280.20,92.41 L281.20,92.64 L282.20,92.88 L283.20,93.11 L284.20,93.34 L285.20,93.57 L286.20,93.79 L287.20,94.01 L288.20,94.23 L289.20,94.44 L290.20,94.66 L291.20,94.87 L292.20,95.09 L293.20,95.30 L294.20,95.52 L295.20,95.74 L296.20,95.96 L297.20,96.18 L298.20,96.41 L299.20,96.65 L300.20,96.89 L301.20,97.13 L302.20,97.38 L303.20,97.63 L304.20,97.89 L305.20,98.15 L306.20,98.41 L307.20,98.67 L308.20,98.94 L309.20,99.20 L310.20,99.47 L311.20,99.73 L312.20,99.99 L313.20,100.25 L314.20,100.51 L315.20,100.77 L316.20,101.03 L317.20,101.28 L318.20,101.52 L319.20,101.77 L320.20,102.01 L321.20,102.25 L322.20,102.49 L323.20,102.72 L324.20,102.96 L325.20,103.19 L326.20,103.43 L327.20,103.66 L328.20,103.89 L329.20,104.13 L330.20,104.36 L331.20,104.59 L332.20,104.83 L333.20,105.06 L334.20,105.30 L335.20,105.54 L336.20,105.78 L337.20,106.02 L338.20,106.26 L339.20,106.50 L340.20,106.74 L341.20,106.99 L342.20,107.23 L343.20,107.48 L344.20,107.72 L345.20,107.97 L346.20,108.22 L347.20,108.46 L348.20,108.71 L349.20,108.96 L350.20,109.21 L351.20,109.46 L352.20,109.71 L353.20,109.96 L354.20,110.21 L355.20,110.46 L356.20,110.72 L357.20,110.97 L358.20,111.22 L359.20,111.47 L360.20,111.73 L361.20,111.98 L362.20,112.23 L363.20,112.49 L364.20,112.74 L365.20,112.99 L366.20,113.24 L367.20,113.50 L368.20,113.75 L369.20,114.00 L370.20,114.25 L371.20,114.50 L372.20,114.75 L373.20,115.00 L374.20,115.25 L375.20,115.50 L376.20,115.75 L377.20,115.99 L378.20,116.24 L379.20,116.49 L380.20,116.73 L381.20,116.98 L382.20,117.22 L383.20,117.46 L384.20,117.70 L385.20,117.94 L386.20,118.18 L387.20,118.42 L388.20,118.66 L389.20,118.89 L390.20,119.13 L391.20,119.36 L392.20,119.59 L393.20,119.83 L394.20,120.06 L395.20,120.29 L396.20,120.52 L397.20,120.75 L398.20,120.98 L399.20,121.21 L400.20,121.44 L401.20,121.66 L402.20,121.89 L403.20,122.12 L404.20,122.34 L405.20,122.57 L406.20,122.79 L407.20,123.02 L408.20,123.25 L409.20,123.47 L410.20,123.69 L411.20,123.92 L412.20,124.14 L413.20,124.37 L414.20,124.59 L415.20,124.81 L416.20,125.04 L417.20,125.26 L418.20,125.49 L419.20,125.71 L420.20,125.93 L421.20,126.16 L422.20,126.38 L423.20,126.61 L424.20,126.83 L425.20,127.06 L426.20,127.28 L427.20,127.51 L428.20,127.74 L429.20,127.96 L430.20,128.19 L431.20,128.42 L432.20,128.65 L433.20,128.88 L434.20,129.11 L435.20,129.34 L436.20,129.57 L437.20,129.80 L438.20,130.03 L439.20,130.26 L440.20,130.49 L441.20,130.72 L442.20,130.95 L443.20,131.18 L444.20,131.41 L445.20,131.64 L446.20,131.87 L447.20,132.10 L448.20,132.33 L449.20,132.56 L450.20,132.79 L451.20,133.03 L452.20,133.26 L453.20,133.49 L454.20,133.72 L455.20,133.95 L456.20,134.18 L457.20,134.42 L458.20,134.65 L459.20,134.88 L460.20,135.11 L461.20,135.34 L462.20,135.57 L463.20,135.81 L464.20,136.04 L465.20,136.27 L466.20,136.50 L467.20,136.73 L468.20,136.97 L469.20,137.20 L470.20,137.43 L471.20,137.66 L472.20,137.89 L473.20,138.12 L474.20,138.36 L475.20,138.59 L476.20,138.82 L477.20,139.05 L478.20,139.28 L479.20,139.51 L480.20,139.75 L481.20,139.98 L482.20,140.21 L483.20,140.44 L484.20,140.67 L485.20,140.90 L486.20,141.14 L487.20,141.37 L488.20,141.60 L489.20,141.83 L490.20,142.06 L491.20,142.29 L492.20,142.52 L493.20,142.76 L494.20,142.99 L495.20,143.22 L496.20,143.45 L497.20,143.68 L498.20,143.91 L499.20,144.14 L500.20,144.38 L501.20,144.61 L502.20,144.84 L503.20,145.07 L504.20,145.30 L505.20,145.53 L506.20,145.77 L507.20,146.00 L508.20,146.23 L509.20,146.46 L510.20,146.69 L511.20,146.92 L512.20,147.15 L513.20,147.39 L514.20,147.62 L515.20,147.85 L516.20,148.08 L517.20,148.31 L518.20,148.54 L519.20,148.78 L520.20,149.01 L521.20,149.24 L522.20,149.47 L523.20,149.70 L524.20,149.94 L525.20,150.17 L526.20,150.40 L527.20,150.63 L528.20,150.86 L529.20,151.09 L530.20,151.33 L531.20,151.56 L532.20,151.79 L533.20,152.02 L534.20,152.25 L535.20,152.49 L536.20,152.72 L537.20,152.95 L538.20,153.18 L539.20,153.41 L540.20,153.65 L541.20,153.88 L542.20,154.11 L543.20,154.34 L544.20,154.57 L545.20,154.81 L546.20,155.04 L547.20,155.27 L548.20,155.50 L549.20,155.74 L550.20,155.97 L551.20,156.20 L552.20,156.43 L553.20,156.67 L554.20,156.90 L555.20,157.13 L556.20,157.36 L557.20,157.59 L558.20,157.83 L559.20,158.06 L560.20,158.29 L561.20,158.52 L562.20,158.76 L563.20,158.99 L564.20,159.22 L565.20,159.45 L566.20,159.69 L567.20,159.92 L568.20,160.15 L569.20,160.38 L570.20,160.62 L571.20,160.85 L572.20,161.08 L573.20,161.31 L574.20,161.55 L575.20,161.78 L576.20,162.01 L577.20,162.24 L578.20,162.48 L579.20,162.71 L580.20,162.94 L581.20,163.18 L582.20,163.41 L583.20,163.64 L584.20,163.87 L585.20,164.11 L586.20,164.34 L587.20,164.57 L588.20,164.81 L589.20,165.04 L590.20,165.27 L591.20,165.50 L592.20,165.74 L593.20,165.97 L594.20,166.20 L595.20,166.44 L596.20,166.67 L597.20,166.90 L598.20,167.13 L599.20,167.37 L600.20,167.60" stroke="#e69f00" stroke-dasharray="15.4 5.7 3.9 5.8"/>
<path d="M88.20,220.40 L89.20,218.45 L90.20,216.50 L91.20,214.55 L92.20,212.59 L93.20,210.60 L94.20,208.58 L95.20,206.64 L96.20,204.85 L97.20,203.30 L98.20,202.22 L99.20,201.32 L100.20,200.51 L101.20,199.75 L102.20,199.03 L103.20,198.33 L104.20,197.65 L105.20,196.99 L106.20,196.32 L107.20,195.64 L108.20,194.94 L109.20,194.25 L110.20,193.55 L111.20,192.85 L112.20,192.16 L113.20,191.46 L114.20,190.77 L115.20,190.10 L116.20,189.48 L117.20,188.85 L118.20,188.29 L119.20,187.95 L120.20,187.73 L121.20,187.61 L122.20,187.64 L123.20,187.80 L124.20,188.02 L125.20,188.24 L126.20,188.50 L127.20,188.81 L128.20,189.13 L129.20,189.46 L130.20,189.76 L131.20,190.05 L132.20,190.33 L133.20,190.62 L134.20,190.90 L135.20,191.18 L136.20,191.46 L137.20,191.73 L138.20,192.01 L139.20,192.28 L140.20,192.56 L141.20,192.83 L142.20,193.09 L143.20,193.36 L144.20,193.62 L145.20,193.88 L146.20,194.13 L147.20,194.38 L148.20,194.63 L149.20,194.88 L150.20,195.12 L151.20,195.36 L152.20,195.61 L153.20,195.85 L154.20,196.10 L155.20,196.35 L156.20,196.60 L157.20,196.85 L158.20,197.11 L159.20,197.37 L160.20,197.62 L161.20,197.88 L162.20,198.14 L163.20,198.40 L164.20,198.65 L165.20,198.91 L166.20,199.17 L167.20,199.42 L168.20,199.68 L169.20,199.93 L170.20,200.19 L171.20,200.44 L172.20,200.69 L173.20,200.93 L174.20,201.18 L175.20,201.42 L176.20,201.66 L177.20,201.89 L178.20,202.12 L179.20,202.35 L180.20,202.58 L181.20,202.81 L182.20,203.04 L183.20,203.28 L184.20,203.51 L185.20,203.75 L186.20,203.99 L187.20,204.23 L188.20,204.47 L189.20,204.71 L190.20,204.95 L191.20,205.20 L192.20,205.44 L193.20,205.69 L194.20,205.93 L195.20,206.18 L196.20,206.43 L197.20,206.68 L198.20,206.92 L199.20,207.17 L200.20,207.42 L201.20,207.67 L202.20,207.92 L203.20,208.17 L204.20,208.42 L205.20,208.67 L206.20,208.92 L207.20,209.17 L208.20,209.42 L209.20,209.67 L210.20,209.93 L211.20,210.18 L212.20,210.43 L213.20,210.68 L214.20,210.93 L215.20,211.18 L216.20,211.43 L217.20,211.68 L218.20,211.92 L219.20,212.17 L220.20,212.42 L221.20,212.67 L222.20,212.91 L223.20,213.16 L224.20,213.41 L225.20,213.65 L226.20,213.90 L227.20,214.14 L228.20,214.38 L229.20,214.63 L230.20,214.87 L231.20,215.11 L232.20,215.35 L233.20,215.60 L234.20,215.84 L235.20,216.08 L236.20,216.32 L237.20,216.56 L238.20,216.80 L239.20,217.05 L240.20,217.29 L241.20,217.53 L242.20,217.77 L243.20,218.01 L244.20,218.25 L245.20,218.49 L246.20,218.73 L247.20,218.97 L248.20,219.21 L249.20,219.45 L250.20,219.69 L251.20,219.93 L252.20,220.17 L253.20,220.41 L254.20,220.65 L255.20,220.89 L256.20,221.13 L257.20,221.37 L258.20,221.61 L259.20,221.85 L260.20,222.09 L261.20,222.33 L262.20,222.57 L263.20,222.81 L264.20,223.05 L265.20,223.29 L266.20,223.53 L267.20,223.77 L268.20,224.01 L269.20,224.25 L270.20,224.49 L271.20,224.73 L272.20,224.97 L273.20,225.21 L274.20,225.45 L275.20,225.69 L276.20,225.93 L277.20,226.17 L278.20,226.41 L279.20,226.65 L280.20,226.89 L281.20,227.13 L282.20,227.37 L283.20,227.61 L284.20,227.85 L285.20,228.09 L286.20,228.33 L287.20,228.57 L288.20,228.81 L289.20,229.05 L290.20,229.29 L291.20,229.53 L292.20,229.77 L293.20,230.01 L294.20,230.25 L295.20,230.49 L296.20,230.73 L297.20,230.97 L298.20,231.21 L299.20,231.45 L300.20,231.69 L301.20,231.93 L302.20,232.17 L303.20,232.41 L304.20,232.65 L305.20,232.89 L306.20,233.13 L307.20,233.37 L308.20,233.61 L309.20,233.85 L310.20,234.09 L311.20,234.33 L312.20,234.57 L313.20,234.81 L314.20,235.05 L315.20,235.29 L316.20,235.54 L317.20,235.78 L318.20,236.02 L319.20,236.26 L320.20,236.50 L321.20,236.74 L322.20,236.98 L323.20,237.22 L324.20,237.46 L325.20,237.71 L326.20,237.95 L327.20,238.19 L328.20,238.43 L329.20,238.67 L330.20,238.91 L331.20,239.15 L332.20,239.40 L333.20,239.64 L334.20,239.88 L335.20,240.12 L336.20,240.36 L337.20,240.60 L338.20,240.85 L339.20,241.09 L340.20,241.33 L341.20,241.57 L342.20,241.81 L343.20,242.06 L344.20,242.30 L345.20,242.54 L346.20,242.78 L347.20,243.02 L348.20,243.26 L349.20,243.51 L350.20,243.75 L351.20,243.99 L352.20,244.23 L353.20,244.47 L354.20,244.71 L355.20,244.95 L356.20,245.20 L357.20,245.44 L358.20,245.68 L359.20,245.92 L360.20,246.16 L361.20,246.40 L362.20,246.64 L363.20,246.88 L364.20,247.13 L365.20,247.37 L366.20,247.61 L367.20,247.85 L368.20,248.09 L369.20,248.33 L370.20,248.57 L371.20,248.81 L372.20,249.05 L373.20,249.29 L374.20,249.53 L375.20,249.77 L376.20,250.01 L377.20,250.25 L378.20,250.49 L379.20,250.73 L380.20,250.96 L381.20,251.20 L382.20,251.44 L383.20,251.68 L384.20,251.92 L385.20,252.16 L386.20,252.40 L387.20,252.63 L388.20,252.87 L389.20,253.11 L390.20,253.35 L391.20,253.58 L392.20,253.82 L393.20,254.06 L394.20,254.30 L395.20,254.53 L396.20,254.77 L397.20,255.00 L398.20,255.24 L399.20,255.48 L400.20,255.71 L401.20,255.95 L402.20,256.18 L403.20,256.42 L404.20,256.65 L405.20,256.88 L406.20,257.12 L407.20,257.35 L408.20,257.58 L409.20,257.81 L410.20,258.05 L411.20,258.28 L412.20,258.51 L413.20,258.74 L414.20,258.97 L415.20,259.20 L416.20,259.43 L417.20,259.66 L418.20,259.89 L419.20,260.12 L420.20,260.35 L421.20,260.58 L422.20,260.81 L423.20,261.04 L424.20,261.27 L425.20,261.50 L426.20,261.73 L427.20,261.96 L428.20,262.19 L429.20,262.42 L430.20,262.65 L431.20,262.88 L432.20,263.11 L433.20,263.35 L434.20,263.58 L435.20,263.81 L436.20,264.04 L437.20,264.28 L438.20,264.51 L439.20,264.74 L440.20,264.98 L441.20,265.21 L442.20,265.45 L443.20,265.68 L444.20,265.92 L445.20,266.16 L446.20,266.39 L447.20,266.63 L448.20,266.87 L449.20,267.11 L450.20,267.35 L451.20,267.59 L452.20,267.83 L453.20,268.07 L454.20,268.31 L455.20,268.55 L456.20,268.79 L457.20,269.03 L458.20,269.27 L459.20,269.51 L460.20,269.75 L461.20,269.99 L462.20,270.24 L463.20,270.48 L464.20,270.72 L465.20,270.96 L466.20,271.20 L467.20,271.44 L468.20,271.68 L469.20,271.93 L470.20,272.17 L471.20,272.41 L472.20,272.65 L473.20,272.89 L474.20,273.13 L475.20,273.37 L476.20,273.61 L477.20,273.85 L478.20,274.09 L479.20,274.33 L480.20,274.56 L481.20,274.80 L482.20,275.04 L483.20,275.28 L484.20,275.51 L485.20,275.75 L486.20,275.98 L487.20,276.22 L488.20,276.45 L489.20,276.69 L490.20,276.92 L491.20,277.16 L492.20,277.40 L493.20,277.63 L494.20,277.87 L495.20,278.10 L496.20,278.34 L497.20,278.57 L498.20,278.81 L499.20,279.04 L500.20,279.28 L501.20,279.51 L502.20,279.75 L503.20,279.98 L504.20,280.22 L505.20,280.45 L506.20,280.68 L507.20,280.92 L508.20,281.15 L509.20,281.39 L510.20,281.62 L511.20,281.85 L512.20,282.09 L513.20,282.32 L514.20,282.55 L515.20,282.78 L516.20,283.02 L517.20,283.25 L518.20,283.48 L519.20,283.71 L520.20,283.94 L521.20,284.17 L522.20,284.41 L523.20,284.64 L524.20,284.87 L525.20,285.10 L526.20,285.32 L527.20,285.55 L528.20,285.78 L529.20,286.01 L530.20,286.24 L531.20,286.47 L532.20,286.69 L533.20,286.92 L534.20,287.15 L535.20,287.37 L536.20,287.60 L537.20,287.82 L538.20,288.05 L539.20,288.27 L540.20,288.50 L541.20,288.72 L542.20,288.94 L543.20,289.17 L544.20,289.39 L545.20,289.61 L546.20,289.83 L547.20,290.06 L548.20,290.28 L549.20,290.50 L550.20,290.72 L551.20,290.94 L552.20,291.16 L553.20,291.38 L554.20,291.60 L555.20,291.81 L556.20,292.02 L557.20,292.23 L558.20,292.44 L559.20,292.64 L560.20,292.84 L561.20,293.03 L562.20,293.23 L563.20,293.42 L564.20,293.61 L565.20,293.80 L566.20,293.98 L567.20,294.17 L568.20,294.35 L569.20,294.53 L570.20,294.71 L571.20,294.88 L572.20,295.06 L573.20,295.24 L574.20,295.41 L575.20,295.58 L576.20,295.75 L577.20,295.93 L578.20,296.10 L579.20,296.26 L580.20,296.43 L581.20,296.60 L582.20,296.77 L583.20,296.93 L584.20,297.10 L585.20,297.26 L586.20,297.43 L587.20,297.59 L588.20,297.75 L589.20,297.91 L590.20,298.07 L591.20,298.23 L592.20,298.38 L593.20,298.54 L594.20,298.69 L595.20,298.85 L596.20,299.00 L597.20,299.15 L598.20,299.30 L599.20,299.45 L600.20,299.60" stroke="#0072b2" stroke-dasharray="19.4 9.45 4 9.45"/>
<path d="M87.80,257.00 L88.80,256.45 L89.80,255.91 L90.80,255.39 L91.80,254.90 L92.80,254.40 L93.80,253.89 L94.80,253.43 L95.80,253.06 L96.80,252.78 L97.80,252.51 L98.80,252.30 L99.80,252.20 L100.80,252.21 L101.80,252.23 L102.80,252.28 L103.80,252.33 L104.80,252.39 L105.80,252.47 L106.80,252.58 L107.80,252.74 L108.80,252.90 L109.80,253.08 L110.80,253.25 L111.80,253.41 L112.80,253.57 L113.80,253.73 L114.80,253.90 L115.80,254.06 L116.80,254.23 L117.80,254.40 L118.80,254.57 L119.80,254.75 L120.80,254.92 L121.80,255.11 L122.80,255.29 L123.80,255.48 L124.80,255.67 L125.80,255.86 L126.80,256.06 L127.80,256.26 L128.80,256.47 L129.80,256.68 L130.80,256.90 L131.80,257.12 L132.80,257.35 L133.80,257.58 L134.80,257.81 L135.80,258.04 L136.80,258.28 L137.80,258.51 L138.80,258.75 L139.80,258.99 L140.80,259.23 L141.80,259.48 L142.80,259.72 L143.80,259.96 L144.80,260.20 L145.80,260.44 L146.80,260.68 L147.80,260.92 L148.80,261.15 L149.80,261.38 L150.80,261.62 L151.80,261.85 L152.80,262.08 L153.80,262.30 L154.80,262.53 L155.80,262.76 L156.80,262.99 L157.80,263.22 L158.80,263.45 L159.80,263.68 L160.80,263.91 L161.80,264.14 L162.80,264.37 L163.80,264.60 L164.80,264.83 L165.80,265.06 L166.80,265.29 L167.80,265.52 L168.80,265.75 L169.80,265.98 L170.80,266.21 L171.80,266.45 L172.80,266.68 L173.80,266.91 L174.80,267.15 L175.80,267.38 L176.80,267.62 L177.80,267.85 L178.80,268.09 L179.80,268.33 L180.80,268.56 L181.80,268.80 L182.80,269.04 L183.80,269.28 L184.80,269.52 L185.80,269.76 L186.80,270.00 L187.80,270.24 L188.80,270.48 L189.80,270.72 L190.80,270.96 L191.80,271.20 L192.80,271.44 L193.80,271.68 L194.80,271.92 L195.80,272.16 L196.80,272.40 L197.80,272.64 L198.80,272.88 L199.80,273.12 L200.80,273.36 L201.80,273.60 L202.80,273.84 L203.80,274.08 L204.80,274.32 L205.80,274.57 L206.80,274.81 L207.80,275.05 L208.80,275.29 L209.80,275.54 L210.80,275.78 L211.80,276.02 L212.80,276.26 L213.80,276.50 L214.80,276.74 L215.80,276.98 L216.80,277.22 L217.80,277.46 L218.80,277.70 L219.80,277.93 L220.80,278.17 L221.80,278.40 L222.80,278.63 L223.80,278.86 L224.80,279.09 L225.80,279.32 L226.80,279.54 L227.80,279.77 L228.80,279.99 L229.80,280.22 L230.80,280.44 L231.80,280.66 L232.80,280.88 L233.80,281.10 L234.80,281.32 L235.80,281.54 L236.80,281.76 L237.80,281.97 L238.80,282.19 L239.80,282.41 L240.80,282.63 L241.80,282.84 L242.80,283.06 L243.80,283.28 L244.80,283.50 L245.80,283.71 L246.80,283.93 L247.80,284.14 L248.80,284.35 L249.80,284.56 L250.80,284.76 L251.80,284.96 L252.80,285.16 L253.80,285.35 L254.80,285.55 L255.80,285.74 L256.80,285.93 L257.80,286.11 L258.80,286.30 L259.80,286.48 L260.80,286.66 L261.80,286.84 L262.80,287.01 L263.80,287.18 L264.80,287.35 L265.80,287.51 L266.80,287.68 L267.80,287.84 L268.80,288.00 L269.80,288.15 L270.80,288.31 L271.80,288.46 L272.80,288.61 L273.80,288.77 L274.80,288.91 L275.80,289.06 L276.80,289.21 L277.80,289.36 L278.80,289.50 L279.80,289.64 L280.80,289.79 L281.80,289.93 L282.80,290.07 L283.80,290.21 L284.80,290.35 L285.80,290.49 L286.80,290.63 L287.80,290.77 L288.80,290.91 L289.80,291.05 L290.80,291.19 L291.80,291.33 L292.80,291.47 L293.80,291.60 L294.80,291.74 L295.80,291.87 L296.80,292.00 L297.80,292.14 L298.80,292.27 L299.80,292.40 L300.80,292.53 L301.80,292.66 L302.80,292.79 L303.80,292.92 L304.80,293.05 L305.80,293.18 L306.80,293.31 L307.80,293.44 L308.80,293.56 L309.80,293.69 L310.80,293.82 L311.80,293.95 L312.80,294.07 L313.80,294.20 L314.80,294.33 L315.80,294.46 L316.80,294.58 L317.80,294.71 L318.80,294.84 L319.80,294.96 L320.80,295.09 L321.80,295.22 L322.80,295.34 L323.80,295.47 L324.80,295.59 L325.80,295.72 L326.80,295.84 L327.80,295.96 L328.80,296.09 L329.80,296.21 L330.80,296.33 L331.80,296.45 L332.80,296.57 L333.80,296.69 L334.80,296.81 L335.80,296.92 L336.80,297.04 L337.80,297.15 L338.80,297.27 L339.80,297.38 L340.80,297.49 L341.80,297.60 L342.80,297.71 L343.80,297.82 L344.80,297.93 L345.80,298.03 L346.80,298.14 L347.80,298.25 L348.80,298.35 L349.80,298.46 L350.80,298.56 L351.80,298.66 L352.80,298.77 L353.80,298.87 L354.80,298.98 L355.80,299.09 L356.80,299.19 L357.80,299.31 L358.80,299.42 L359.80,299.53 L360.80,299.63 L361.80,299.73 L362.80,299.82 L363.80,299.91 L364.80,299.99 L365.80,300.07 L366.80,300.14 L367.80,300.22 L368.80,300.29 L369.80,300.37 L370.80,300.44 L371.80,300.51 L372.80,300.58 L373.80,300.65 L374.80,300.71 L375.80,300.78 L376.80,300.84 L377.80,300.90 L378.80,300.96 L379.80,301.01 L380.80,301.07 L381.80,301.12 L382.80,301.17 L383.80,301.22 L384.80,301.27 L385.80,301.31 L386.80,301.36 L387.80,301.40 L388.80,301.44 L389.80,301.47 L390.80,301.51 L391.80,301.55 L392.80,301.58 L393.80,301.62 L394.80,301.65 L395.80,301.69 L396.80,301.72 L397.80,301.75 L398.80,301.78 L399.80,301.81 L400.80,301.84 L401.80,301.87 L402.80,301.90 L403.80,301.92 L404.80,301.95 L405.80,301.97 L406.80,301.99 L407.80,302.02 L408.80,302.04 L409.80,302.06 L410.80,302.08 L411.80,302.09 L412.80,302.11 L413.80,302.13 L414.80,302.14 L415.80,302.16 L416.80,302.17 L417.80,302.18 L418.80,302.20 L419.80,302.21 L420.80,302.22 L421.80,302.23 L422.80,302.25 L423.80,302.26 L424.80,302.27 L425.80,302.28 L426.80,302.29 L427.80,302.30 L428.80,302.31 L429.80,302.32 L430.80,302.33 L431.80,302.34 L432.80,302.35 L433.80,302.36 L434.80,302.37 L435.80,302.38 L436.80,302.39 L437.80,302.40 L438.80,302.40 L439.80,302.41 L440.80,302.42 L441.80,302.43 L442.80,302.45 L443.80,302.46 L444.80,302.47 L445.80,302.48 L446.80,302.49 L447.80,302.50 L448.80,302.51 L449.80,302.52 L450.80,302.53 L451.80,302.54 L452.80,302.54 L453.80,302.55 L454.80,302.56 L455.80,302.57 L456.80,302.57 L457.80,302.58 L458.80,302.59 L459.80,302.59 L460.80,302.59 L461.80,302.60 L462.80,302.60 L463.80,302.60 L464.80,302.60 L465.80,302.61 L466.80,302.61 L467.80,302.61 L468.80,302.61 L469.80,302.61 L470.80,302.62 L471.80,302.62 L472.80,302.62 L473.80,302.62 L474.80,302.62 L475.80,302.62 L476.80,302.62 L477.80,302.62 L478.80,302.63 L479.80,302.63 L480.80,302.63 L481.80,302.63 L482.80,302.63 L483.80,302.63 L484.80,302.63 L485.80,302.63 L486.80,302.63 L487.80,302.63 L488.80,302.64 L489.80,302.64 L490.80,302.64 L491.80,302.64 L492.80,302.64 L493.80,302.64 L494.80,302.64 L495.80,302.64 L496.80,302.64 L497.80,302.64 L498.80,302.64 L499.80,302.64 L500.80,302.64 L501.80,302.64 L502.80,302.64 L503.80,302.64 L504.80,302.64 L505.80,302.65 L506.80,302.65 L507.80,302.65 L508.80,302.65 L509.80,302.65 L510.80,302.65 L511.80,302.65 L512.80,302.65 L513.80,302.65 L514.80,302.65 L515.80,302.65 L516.80,302.65 L517.80,302.65 L518.80,302.65 L519.80,302.65 L520.80,302.65 L521.80,302.65 L522.80,302.65 L523.80,302.65 L524.80,302.65 L525.80,302.65 L526.80,302.65 L527.80,302.65 L528.80,302.66 L529.80,302.66 L530.80,302.66 L531.80,302.66 L532.80,302.66 L533.80,302.66 L534.80,302.66 L535.80,302.66 L536.80,302.66 L537.80,302.66 L538.80,302.66 L539.80,302.66 L540.80,302.66 L541.80,302.67 L542.80,302.67 L543.80,302.67 L544.80,302.67 L545.80,302.67 L546.80,302.67 L547.80,302.67 L548.80,302.67 L549.80,302.68 L550.80,302.68 L551.80,302.68 L552.80,302.68 L553.80,302.68 L554.80,302.68 L555.80,302.68 L556.80,302.69 L557.80,302.69 L558.80,302.69 L559.80,302.69 L560.80,302.69 L561.80,302.70 L562.80,302.70 L563.80,302.70 L564.80,302.71 L565.80,302.71 L566.80,302.72 L567.80,302.73 L568.80,302.73 L569.80,302.74 L570.80,302.76 L571.80,302.77 L572.80,302.78 L573.80,302.80 L574.80,302.81 L575.80,302.83 L576.80,302.84 L577.80,302.86 L578.80,302.88 L579.80,302.90 L580.80,302.92 L581.80,302.94 L582.80,302.96 L583.80,302.98 L584.80,303.00 L585.80,303.02 L586.80,303.04 L587.80,303.06 L588.80,303.09 L589.80,303.12 L590.80,303.15 L591.80,303.18 L592.80,303.22 L593.80,303.25 L594.80,303.29 L595.80,303.33 L596.80,303.36 L597.80,303.40 L598.80,303.44 L599.80,303.48 L600.20,303.50" stroke="#f0e442" stroke-dasharray="15.4 9.5"/>
</g>
<rect x="88.2" y="2.2" width="512.00" height="337.70" fill="none" stroke="#000" stroke-width="1.9"/>
<text x="79.50" y="21.60" text-anchor="end" font-size="21.0">10<tspan dy="-10.4" font-size="16.00">-4</tspan></text>
<text x="79.50" y="51.06" text-anchor="end" font-size="21.0">10<tspan dy="-10.4" font-size="16.00">-6</tspan></text>
<text x="79.50" y="80.52" text-anchor="end" font-size="21.0">10<tspan dy="-10.4" font-size="16.00">-8</tspan></text>
<text x="79.50" y="109.98" text-anchor="end" font-size="21.0">10<tspan dy="-10.4" font-size="16.00">-10</tspan></text>
<text x="79.50" y="139.44" text-anchor="end" font-size="21.0">10<tspan dy="-10.4" font-size="16.00">-12</tspan></text>
<text x="79.50" y="168.90" text-anchor="end" font-size="21.0">10<tspan dy="-10.4" font-size="16.00">-14</tspan></text>
<text x="79.50" y="198.36" text-anchor="end" font-size="21.0">10<tspan dy="-10.4" font-size="16.00">-16</tspan></text>
<text x="79.50" y="227.82" text-anchor="end" font-size="21.0">10<tspan dy="-10.4" font-size="16.00">-18</tspan></text>
<text x="79.50" y="257.28" text-anchor="end" font-size="21.0">10<tspan dy="-10.4" font-size="16.00">-20</tspan></text>
<text x="79.50" y="286.74" text-anchor="end" font-size="21.0">10<tspan dy="-10.4" font-size="16.00">-22</tspan></text>
<text x="79.50" y="316.20" text-anchor="end" font-size="21.0">10<tspan dy="-10.4" font-size="16.00">-24</tspan></text>
<text x="79.50" y="345.66" text-anchor="end" font-size="21.0">10<tspan dy="-10.4" font-size="16.00">-26</tspan></text>
<text x="109.30" y="365.00" text-anchor="middle" font-size="21.0">10<tspan dy="-10.4" font-size="16.00">-16</tspan></text>
<text x="170.30" y="365.00" text-anchor="middle" font-size="21.0">10<tspan dy="-10.4" font-size="16.00">-13</tspan></text>
<text x="231.30" y="365.00" text-anchor="middle" font-size="21.0">10<tspan dy="-10.4" font-size="16.00">-10</tspan></text>
<text x="292.30" y="365.00" text-anchor="middle" font-size="21.0">10<tspan dy="-10.4" font-size="16.00">-7</tspan></text>
<text x="353.30" y="365.00" text-anchor="middle" font-size="21.0">10<tspan dy="-10.4" font-size="16.00">-4</tspan></text>
<text x="414.30" y="365.00" text-anchor="middle" font-size="21.0">10<tspan dy="-10.4" font-size="16.00">-1</tspan></text>
<text x="475.29" y="365.00" text-anchor="middle" font-size="21.0">10<tspan dy="-10.4" font-size="16.00">2</tspan></text>
<text x="536.29" y="365.00" text-anchor="middle" font-size="21.0">10<tspan dy="-10.4" font-size="16.00">5</tspan></text>
<text x="597.29" y="365.00" text-anchor="middle" font-size="21.0">10<tspan dy="-10.4" font-size="16.00">8</tspan></text>
<text x="343.5" y="396.7" text-anchor="middle" font-size="26.0">f [Hz]</text>
<text transform="translate(20.9,214.9) rotate(-90)" font-size="26.5">&#937;<tspan dy="7.5" font-size="21.20">GW</tspan><tspan dy="-7.5" font-size="26.5">(f)</tspan></text>
<text x="702.6" y="22.0" text-anchor="end" font-size="21.0">heavy</text>
<text x="702.20" y="44.20" text-anchor="end" font-size="21.0">10<tspan dy="-10.4" font-size="16.00">-5</tspan><tspan dy="10.4" font-size="21.0">eV</tspan></text>
<text x="702.20" y="68.60" text-anchor="end" font-size="21.0">10<tspan dy="-10.4" font-size="16.00">-15</tspan><tspan dy="10.4" font-size="21.0">eV</tspan></text>
<text x="702.20" y="93.00" text-anchor="end" font-size="21.0">10<tspan dy="-10.4" font-size="16.00">-20</tspan><tspan dy="10.4" font-size="21.0">eV</tspan></text>
<text x="702.20" y="117.30" text-anchor="end" font-size="21.0">10<tspan dy="-10.4" font-size="16.00">-30</tspan><tspan dy="10.4" font-size="21.0">eV</tspan></text>
<text x="702.6" y="143.7" text-anchor="end" font-size="21.0">massless</text>
<g fill="none" stroke-width="3.8" stroke-linecap="round">
<path d="M711.6,14.5 H760.4" stroke="#9400d3"/>
<path d="M711.6,38.7 H760.4" stroke="#009e73" stroke-dasharray="5.5 6.1"/>
<path d="M711.6,63.1 H760.4" stroke="#56b4e9" stroke-dasharray="9.7 9.5"/>
<path d="M711.6,87.5 H760.4" stroke="#e69f00" stroke-dasharray="15.4 5.7 3.9 5.8"/>
<path d="M711.6,111.8 H760.4" stroke="#0072b2" stroke-dasharray="19.4 9.45 4 9.45"/>
<path d="M711.6,136.2 h15.4 M736.5,136.2 h15.4" stroke="#f0e442"/>
</g>
</svg></body></html>
